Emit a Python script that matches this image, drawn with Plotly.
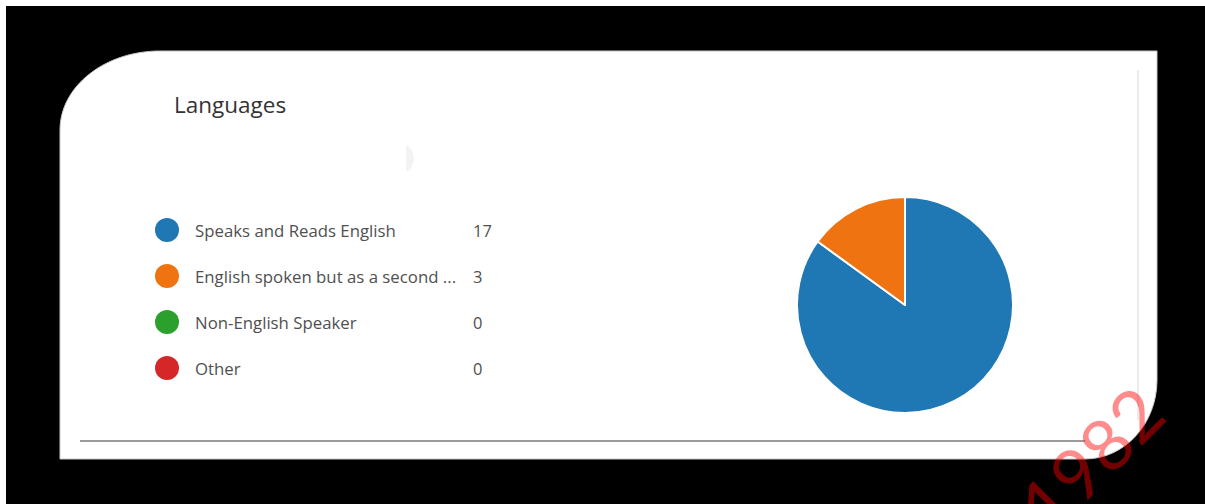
import plotly.graph_objects as go

# Survey answers for the "Languages" question
categories = [
    "Speaks and Reads English",
    "English spoken but as a second language",
    "Non-English Speaker",
    "Other",
]
counts = [17, 3, 0, 0]
colors = ["#1f77b4", "#ef7411", "#2ca02c", "#d62728"]
title_text = "Languages"
watermark_text = "1982"

W, H = 1205, 504
MAX_LABEL = 30


def short_label(s):
    return s if len(s) <= MAX_LABEL else s[:MAX_LABEL] + " ..."


fig = go.Figure()

# pixel-space helper axes spanning the whole page
fig.update_xaxes(range=[0, W], visible=False, fixedrange=True)
fig.update_yaxes(range=[H, 0], visible=False, fixedrange=True)

shapes = []
# dark frame
shapes.append(dict(type="rect", xref="x", yref="y", x0=6, y0=6, x1=W, y1=H,
                   fillcolor="#000000", line=dict(width=0), layer="below"))
# white card with rounded top-left and bottom-right corners
k = 0.552
card = (
    f"M 160,51 L 1157,51 L 1157,380 "
    f"C 1157,{380 + 79 * k} {1085 + 72 * k},459 1085,459 "
    f"L 60,459 L 60,130 "
    f"C 60,{130 - 79 * k} {160 - 100 * k},51 160,51 Z"
)
shapes.append(dict(type="path", xref="x", yref="y", path=card,
                   fillcolor="#ffffff", line=dict(color="#c8c8c8", width=1),
                   layer="below"))
# faint divider at the right and rule at the bottom
shapes.append(dict(type="line", xref="x", yref="y", x0=1138, y0=70, x1=1138, y1=420,
                   line=dict(color="#e4e4e4", width=1.5), layer="below"))
shapes.append(dict(type="line", xref="x", yref="y", x0=80, y0=441, x1=1085, y1=441,
                   line=dict(color="#7a7a7a", width=1.5), layer="below"))
# faint shadow blob under the title
shapes.append(dict(type="path", xref="x", yref="y",
                   path="M 406,145 C 416,150 416,165 408,171 L 406,171 Z",
                   fillcolor="#f3f3f3", line=dict(width=0), layer="below"))

# legend rows
row_y = [230 + 46 * i for i in range(len(categories))]
fig.add_trace(go.Scatter(
    x=[167] * len(categories), y=row_y, mode="markers",
    marker=dict(size=24, color=colors, line=dict(width=0)),
    hoverinfo="skip", showlegend=False,
))

annotations = [dict(
    x=172, y=104, xref="x", yref="y", text=title_text, showarrow=False,
    xanchor="left", yanchor="middle",
    font=dict(family="Open Sans", size=22.5, color="#333333"),
)]
for name, val, yy in zip(categories, counts, row_y):
    annotations.append(dict(
        x=193, y=yy, xref="x", yref="y", text=short_label(name), showarrow=False,
        xanchor="left", yanchor="middle",
        font=dict(family="Open Sans", size=16.8, color="#505050"),
    ))
    annotations.append(dict(
        x=471, y=yy, xref="x", yref="y", text=str(val), showarrow=False,
        xanchor="left", yanchor="middle",
        font=dict(family="Open Sans", size=16.5, color="#505050"),
    ))

# watermark
annotations.append(dict(
    x=1090, y=458, xref="x", yref="y", text=watermark_text, showarrow=False,
    textangle=-45, xanchor="center", yanchor="middle",
    font=dict(family="Lato", size=72, color="rgba(255,0,0,0.45)"),
))

# pie
cx, cy, r = 905, 305, 108
fig.add_trace(go.Pie(
    labels=categories, values=counts, sort=False, direction="clockwise",
    rotation=0, textinfo="none", hole=0,
    marker=dict(colors=colors, line=dict(color="#ffffff", width=2)),
    domain=dict(x=[(cx - r) / W, (cx + r) / W],
                y=[1 - (cy + r) / H, 1 - (cy - r) / H]),
    showlegend=False,
))

fig.update_layout(
    width=W, height=H,
    margin=dict(l=0, r=0, t=0, b=0),
    paper_bgcolor="#ffffff", plot_bgcolor="rgba(0,0,0,0)",
    shapes=shapes, annotations=annotations,
    showlegend=False,
)

fig.write_html("out.html")
